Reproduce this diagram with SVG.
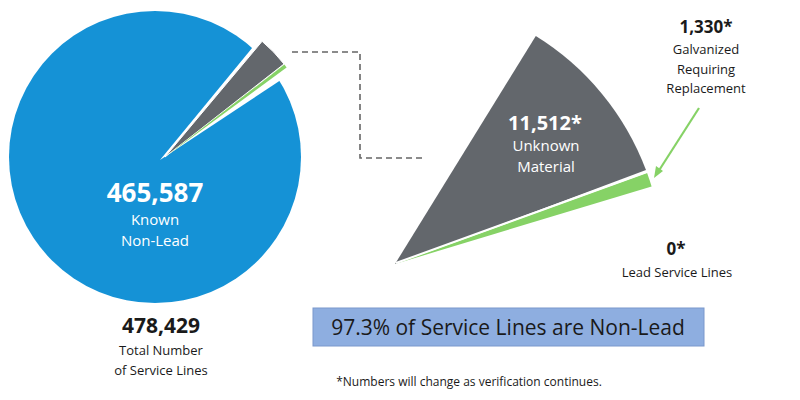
<svg xmlns="http://www.w3.org/2000/svg" width="800" height="400" viewBox="0 0 800 400">
<style>
text{font-family:"Open Sans","Noto Sans","Liberation Sans",sans-serif;text-anchor:middle}
.w{fill:#fff}.d{fill:#1a1a1a}
.gray{fill:#63676c}.green{fill:#86d266}
</style>
<rect width="800" height="400" fill="#fff"/>
<g id="pie">
<circle cx="155" cy="157" r="146" fill="#1592d6"/>
<path d="M160,160 L262,36 L296,70 Z" fill="#fff"/>
<path class="gray" d="M165,157 L262.1,41.3 A151,151 0 0 1 284,64 Z" stroke="#fff" stroke-width="1"/>
<path class="green" d="M165,157 L284.4,64.6 A151,151 0 0 1 286.6,67.5 Z"/>
<text class="w" x="155" y="202" font-size="26" font-weight="bold">465,587</text>
<text class="w" x="155" y="225" font-size="15">Known</text>
<text class="w" x="155" y="246" font-size="15">Non-Lead</text>
</g>
<g id="connectors" fill="none">
<path d="M292,52 H360 V158 H425" stroke="#666" stroke-width="1.6" stroke-dasharray="6,4"/>
<line x1="699" y1="108" x2="658" y2="172" stroke="#86d266" stroke-width="2.2"/>
<path d="M654,178 L656,166 L663,171 Z" fill="#86d266"/>
</g>
<g id="zoom-wedge">
<path class="gray" d="M395,264 L535.8,36 A268,268 0 0 1 646,170.1 Z"/>
<path class="green" d="M395,264 L647,172.8 A268,268 0 0 1 651.6,186.5 Z"/>
<path d="M396,263 L647,172" stroke="#fff" stroke-width="2"/>
<text class="w" x="545" y="130" font-size="20" font-weight="bold">11,512*</text>
<text class="w" x="546" y="151" font-size="15">Unknown</text>
<text class="w" x="546" y="172" font-size="15">Material</text>
</g>
<g id="galvanized">
<text class="d" x="706" y="33" font-size="17" font-weight="bold">1,330*</text>
<text class="d" x="706" y="54" font-size="13">Galvanized</text>
<text class="d" x="706" y="74" font-size="13">Requiring</text>
<text class="d" x="706" y="93" font-size="13">Replacement</text>
</g>
<g id="lead">
<text class="d" x="676" y="255" font-size="17" font-weight="bold">0*</text>
<text class="d" x="677" y="277" font-size="13">Lead Service Lines</text>
</g>
<g id="total">
<text class="d" x="161" y="333" font-size="21" font-weight="bold">478,429</text>
<text class="d" x="161" y="355" font-size="13">Total Number</text>
<text class="d" x="161" y="375" font-size="13">of Service Lines</text>
</g>
<g id="summary">
<rect x="313" y="308" width="391" height="38" fill="#8eaee0" stroke="#7a98cc" stroke-width="1"/>
<text x="508" y="335" font-size="21" fill="#1a1a1a">97.3% of Service Lines are Non-Lead</text>
</g>
<text class="d" x="469" y="386" font-size="12">*Numbers will change as verification continues.</text>
</svg>
